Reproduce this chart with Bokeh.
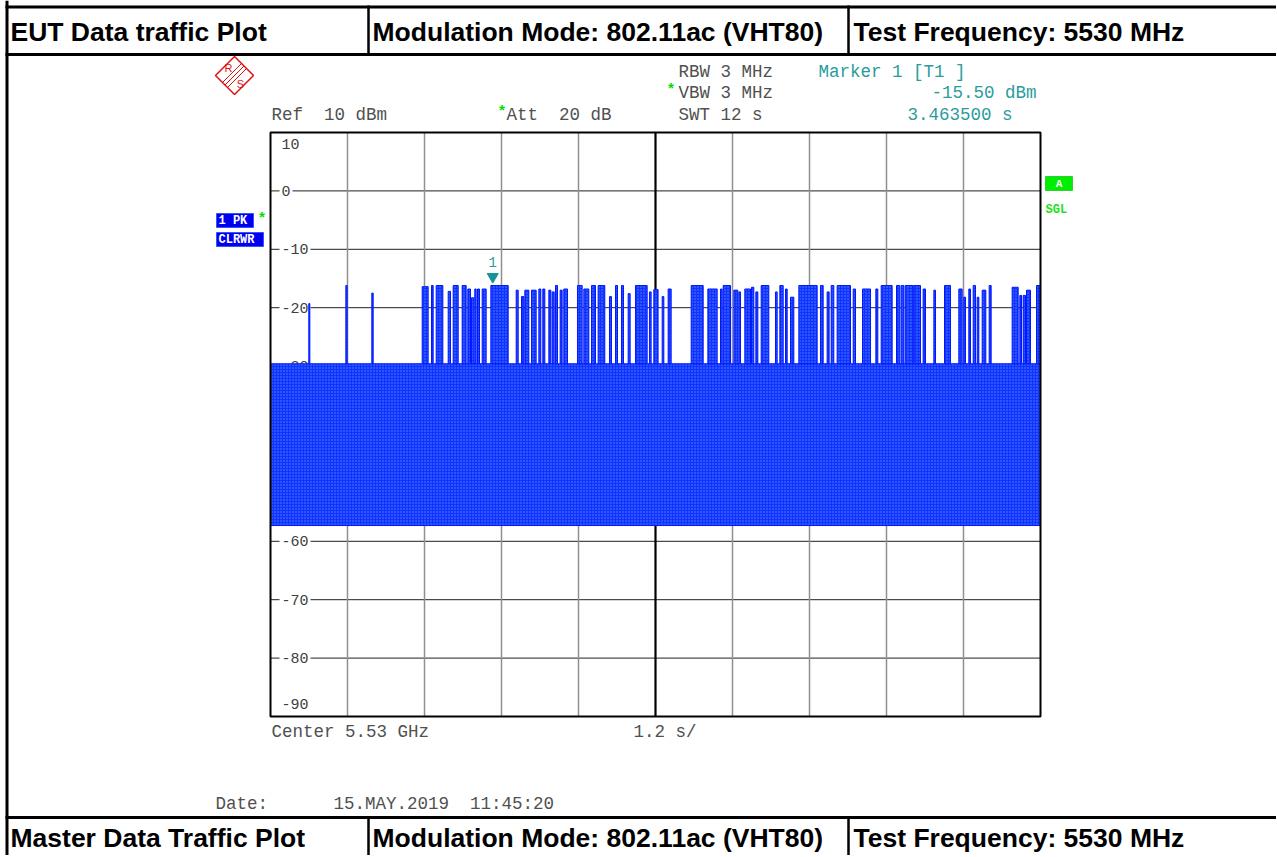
from bokeh.plotting import figure
from bokeh.models import Range1d
from bokeh.core.properties import value
from bokeh.embed import file_html
from bokeh.resources import INLINE

# ---------------- data ----------------
sweep_time = 12.0                     # s (10 div x 1.2 s)
ref_level = 10
bottom_level = -90
y_ticks = [10, 0, -10, -20, -30, -40, -50, -60, -70, -80, -90]
y_tick_labels = ["10", "0", "-10", "-20", "-30", "-40", "-50", "-60", "-70", "-80", "-90"]
x_div = [1.2, 2.4, 3.6, 4.8, 6.0, 7.2, 8.4, 9.6, 10.8]

noise_top = -29.6
noise_bottom = -57.3

burst_start = [0.597, 1.174, 1.579, 2.364, 2.509, 2.582, 2.769, 2.847, 2.987, 3.075,
               3.132, 3.184, 3.226, 3.299, 3.434, 3.829, 3.912, 3.964, 4.068, 4.182,
               4.244, 4.338, 4.390, 4.442, 4.514, 4.571, 4.784, 4.883, 5.003, 5.106,
               5.283, 5.377, 5.470, 5.574, 5.688, 5.906, 5.974,
               6.104, 6.197, 6.556, 6.816, 7.013, 7.055, 7.221, 7.299, 7.392, 7.496,
               7.564, 7.647, 7.870, 7.938, 8.026, 8.104, 8.234, 8.571, 8.675, 8.738,
               8.831, 9.081, 9.226, 9.434, 9.517, 9.756, 9.829, 9.891, 10.026, 10.171,
               10.338, 10.504, 10.727, 10.805, 10.883, 10.951, 11.013, 11.091, 11.200,
               11.558, 11.678, 11.730, 11.782, 11.938]
burst_end = [0.613, 1.195, 1.600, 2.457, 2.535, 2.686, 2.805, 2.925, 3.049, 3.117,
             3.169, 3.205, 3.257, 3.361, 3.704, 3.860, 3.948, 4.026, 4.140, 4.213,
             4.275, 4.369, 4.421, 4.473, 4.545, 4.629, 4.857, 4.961, 5.065, 5.210,
             5.314, 5.408, 5.501, 5.605, 5.870, 5.932, 6.040,
             6.130, 6.244, 6.743, 6.961, 7.039, 7.169, 7.283, 7.325, 7.481, 7.532,
             7.595, 7.766, 7.896, 7.990, 8.052, 8.156, 8.519, 8.613, 8.706, 8.779,
             9.039, 9.117, 9.351, 9.465, 9.688, 9.808, 9.870, 10.016, 10.130, 10.208,
             10.364, 10.597, 10.779, 10.831, 10.909, 10.987, 11.039, 11.148, 11.231,
             11.652, 11.704, 11.766, 11.844, 12.000]
burst_peak = [-19.3, -16.2, -17.5, -16.4, -16.2, -16.2, -17.2, -16.2, -16.2, -16.8,
              -18.3, -16.8, -16.8, -16.8, -16.2, -17.0, -18.1, -17.0, -17.0, -16.8,
              -16.8, -17.0, -17.3, -16.2, -17.0, -16.8, -16.2, -16.8, -16.2, -16.2,
              -18.1, -16.2, -16.2, -17.6, -16.2, -17.3, -16.9,
              -18.1, -16.8, -16.2, -16.8, -16.8, -16.2, -17.0, -17.3, -16.8, -16.5,
              -17.3, -16.2, -17.3, -16.2, -16.8, -18.2, -16.2, -16.2, -17.3, -16.2,
              -16.2, -16.8, -16.8, -16.8, -16.2, -16.2, -16.2, -16.2, -16.2, -16.8,
              -17.0, -16.2, -16.8, -18.2, -16.8, -16.2, -18.2, -17.0, -16.2,
              -16.5, -17.9, -17.9, -17.0, -16.2]

marker_time = 3.4635
marker_level = -15.50

NB = "\u00a0"
# ---------------- layout (page pixels) ----------------
OFF = 0
W, H = 1276, 855
PL, PR, PT, PB = 270, 1040, 132, 716

tpp = sweep_time / (PR - PL)
dpp = (ref_level - bottom_level) / (PB - PT)
t_range = Range1d(0 - (PL - OFF) * tpp, sweep_time + (OFF + W - PR) * tpp)
db_range = Range1d(bottom_level - (OFF + H - PB) * dpp, ref_level + (PT - OFF) * dpp)

p = figure(width=W, height=H, x_range=Range1d(OFF, OFF + W), y_range=Range1d(OFF + H, OFF),
           output_backend="svg", toolbar_location=None, x_axis_location=None,
           y_axis_location=None, min_border=0)
p.grid.visible = False
p.outline_line_color = None
p.background_fill_color = "white"
p.border_fill_color = "white"
p.extra_x_ranges = {"t": t_range}
p.extra_y_ranges = {"db": db_range}
D = dict(x_range_name="t", y_range_name="db")

MONO = value("Liberation Mono")
SANS = value("Liberation Sans")

# grid
p.segment(x0=[0] * len(y_ticks), x1=[sweep_time] * len(y_ticks), y0=y_ticks, y1=y_ticks,
          line_color="#202020", line_width=1, **D)
gx = [v for v in x_div if abs(v - sweep_time / 2) > 1e-9]
p.segment(x0=gx, x1=gx, y0=[bottom_level] * len(gx), y1=[ref_level] * len(gx),
          line_color="#909090", line_width=1.5, **D)
p.segment(x0=[sweep_time / 2], x1=[sweep_time / 2], y0=[bottom_level], y1=[ref_level],
          line_color="black", line_width=2.2, **D)

# level labels inside the grid
offs = [11 if v == ref_level else (-13 if v == bottom_level else 0) for v in y_ticks]
p.text(x=[0] * len(y_ticks), y=y_ticks, text=y_tick_labels, x_offset=9, y_offset=offs,
       text_font=MONO, text_font_size="15px", text_color="#404040",
       text_baseline="middle", text_align="left",
       background_fill_color="white", padding=2, **D)

# trace
BLUE = "#1432ff"
p.quad(left=[0], right=[sweep_time], bottom=[noise_bottom], top=[noise_top],
       fill_color=BLUE, line_color="#0018ff", line_width=1,
       hatch_pattern="dot", hatch_color="#5fb0ff", hatch_scale=3, hatch_weight=1,
       hatch_alpha=0.7, **D)
p.quad(left=burst_start, right=burst_end, bottom=[noise_top] * len(burst_start), top=burst_peak,
       fill_color=BLUE, line_color="#0018ff", line_width=1,
       hatch_pattern="dot", hatch_color="#5fb0ff", hatch_scale=3, hatch_weight=1,
       hatch_alpha=0.7, **D)

# frame
p.quad(left=[0], right=[sweep_time], bottom=[bottom_level], top=[ref_level],
       fill_color=None, line_color="black", line_width=2, **D)

# marker
TEAL = "#2a9c9c"
p.scatter(x=[marker_time], y=[marker_level + 0.8], marker="inverted_triangle", size=11,
          fill_color="#149494", line_color="#149494", **D)
p.text(x=[marker_time], y=[marker_level], text=["1"], y_offset=-19, text_font=MONO,
       text_font_size="14px", text_color=TEAL, text_align="center",
       text_baseline="middle", **D)

# ---------------- report table ----------------
BK = "black"
p.segment(x0=[6.5], x1=[6.5], y0=[0], y1=[OFF + H], line_color=BK, line_width=3)
p.segment(x0=[5, 5, 5], x1=[OFF + W] * 3, y0=[6.5, 54, 817], y1=[6.5, 54, 817],
          line_color=BK, line_width=3)
p.segment(x0=[368, 848], x1=[368, 848], y0=[5, 5], y1=[54, 54], line_color=BK, line_width=2.5)
p.segment(x0=[368, 848], x1=[368, 848], y0=[817, 817], y1=[OFF + H, OFF + H],
          line_color=BK, line_width=2.5)

hdr = dict(text_font=SANS, text_font_style="bold", text_font_size="26.5px",
           text_color="black", text_baseline="middle", text_align="left")
p.text(x=[10, 372, 853], y=[31, 31, 31],
       text=["EUT Data traffic Plot", "Modulation Mode: 802.11ac (VHT80)",
             "Test Frequency: 5530 MHz"], **hdr)
p.text(x=[10, 372, 853], y=[837, 837, 837],
       text=["Master Data Traffic Plot", "Modulation Mode: 802.11ac (VHT80)",
             "Test Frequency: 5530 MHz"], **hdr)

# ---------------- instrument annotations ----------------
GRAY = "#505050"
ann = dict(text_font=MONO, text_font_size="17.5px", text_baseline="middle", text_align="left")
p.text(x=[271, 506, 678, 678, 678, 271, 633, 215, 333],
       y=[114, 114, 71, 92, 114, 731, 731, 803, 803],
       text=["Ref" + NB * 2 + "10 dBm", "Att" + NB * 2 + "20 dB", "RBW 3 MHz", "VBW 3 MHz",
             "SWT 12 s", "Center 5.53 GHz", "1.2 s/", "Date:",
             "15.MAY.2019" + NB * 2 + "11:45:20"],
       text_color=GRAY, **ann)
p.text(x=[818], y=[71], text=["Marker 1 [T1 ]"], text_color=TEAL, **ann)
p.text(x=[1036, 1012], y=[92, 114],
       text=[f"{marker_level:.2f} dBm", f"{marker_time:.6f} s"],
       text_color=TEAL, text_font=MONO, text_font_size="17.5px",
       text_baseline="middle", text_align="right")
p.text(x=[497, 666, 257], y=[112, 90, 219], text=["*", "*", "*"], text_color="#00dd00",
       text_font=MONO, text_font_size="15px", text_font_style="bold",
       text_baseline="middle", text_align="left")

# trace info boxes
p.quad(left=[216, 216], right=[253, 263], top=[213, 232], bottom=[227, 246],
       fill_color="#0000ee", line_color="#3355ff", line_width=1)
p.text(x=[218, 218], y=[220.5, 239.5], text=["1" + NB + "PK", "CLRWR"], text_color="white",
       text_font=MONO, text_font_size="12px", text_font_style="bold",
       text_baseline="middle", text_align="left")
p.quad(left=[1045], right=[1072], top=[176], bottom=[190],
       fill_color="#00ee00", line_color="#33cc33", line_width=1)
p.text(x=[1058.5], y=[183], text=["A"], text_color="white", text_font=MONO,
       text_font_size="11px", text_font_style="bold", text_baseline="middle", text_align="center")
p.text(x=[1045], y=[209], text=["SGL"], text_color="#22e022", text_font=MONO,
       text_font_size="12px", text_font_style="bold", text_baseline="middle", text_align="left")

# R&S logo
RED = "#e01010"
p.patch(x=[234, 253, 234, 215], y=[56, 75, 94, 75], fill_color=None, line_color=RED, line_width=1.5)
for d in (-2.5, 0, 2.5):
    p.line(x=[243.5 + d, 224.5 + d], y=[65.5 + d, 84.5 + d], line_color=RED, line_width=1)
p.text(x=[228, 240], y=[67, 83], text=["R", "S"], text_color=RED, text_font=SANS,
       text_font_size="11px", text_align="center", text_baseline="middle")

open("out.html", "w").write(file_html(p, INLINE))
